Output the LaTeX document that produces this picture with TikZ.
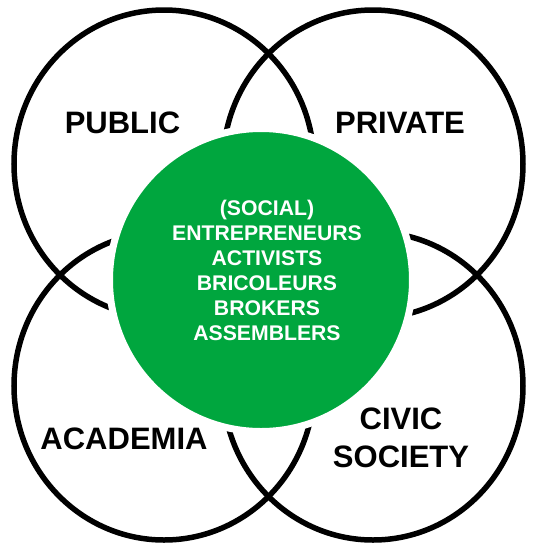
\documentclass[tikz,border=0pt]{standalone}
\usepackage{fontspec}
\setmainfont{Liberation Sans}
\definecolor{venngreen}{RGB}{0,166,62}
\begin{document}
\begin{tikzpicture}[x=1pt,y=-1pt,
  ring/.style={draw=black,line width=5.5pt},
  core/.style={circle,fill=venngreen,draw=white,line width=7pt,minimum size=303pt,inner sep=0pt},
  biglabel/.style={inner sep=0pt,align=center,font=\bfseries\fontsize{31}{38}\selectfont},
  corelabel/.style={inner sep=0pt,align=center,text=white,font=\bfseries\fontsize{21.2}{25}\selectfont}]
\useasboundingbox (0,0) rectangle (533,550);
\fill[white] (0,0) rectangle (533,550);
% four sector rings
\draw[ring] (164,164) ellipse [x radius=150, y radius=154];
\draw[ring] (373,164) ellipse [x radius=150, y radius=154];
\draw[ring] (164,386) ellipse [x radius=150, y radius=154];
\draw[ring] (373,386) ellipse [x radius=150, y radius=154];
% central circle
\node[core] (core) at (261,280) {};
\node[corelabel] (actors) at (267,270) {(SOCIAL)\\ENTREPRENEURS\\ACTIVISTS\\BRICOLEURS\\BROKERS\\ASSEMBLERS};
% sector labels
\node[biglabel] (public) at (122.5,122.5) {PUBLIC};
\node[biglabel] (private) at (400,122.5) {PRIVATE};
\node[biglabel] (academia) at (124,438.5) {ACADEMIA};
\node[biglabel] (civic) at (401,437.5) {CIVIC\\SOCIETY};
\end{tikzpicture}
\end{document}
